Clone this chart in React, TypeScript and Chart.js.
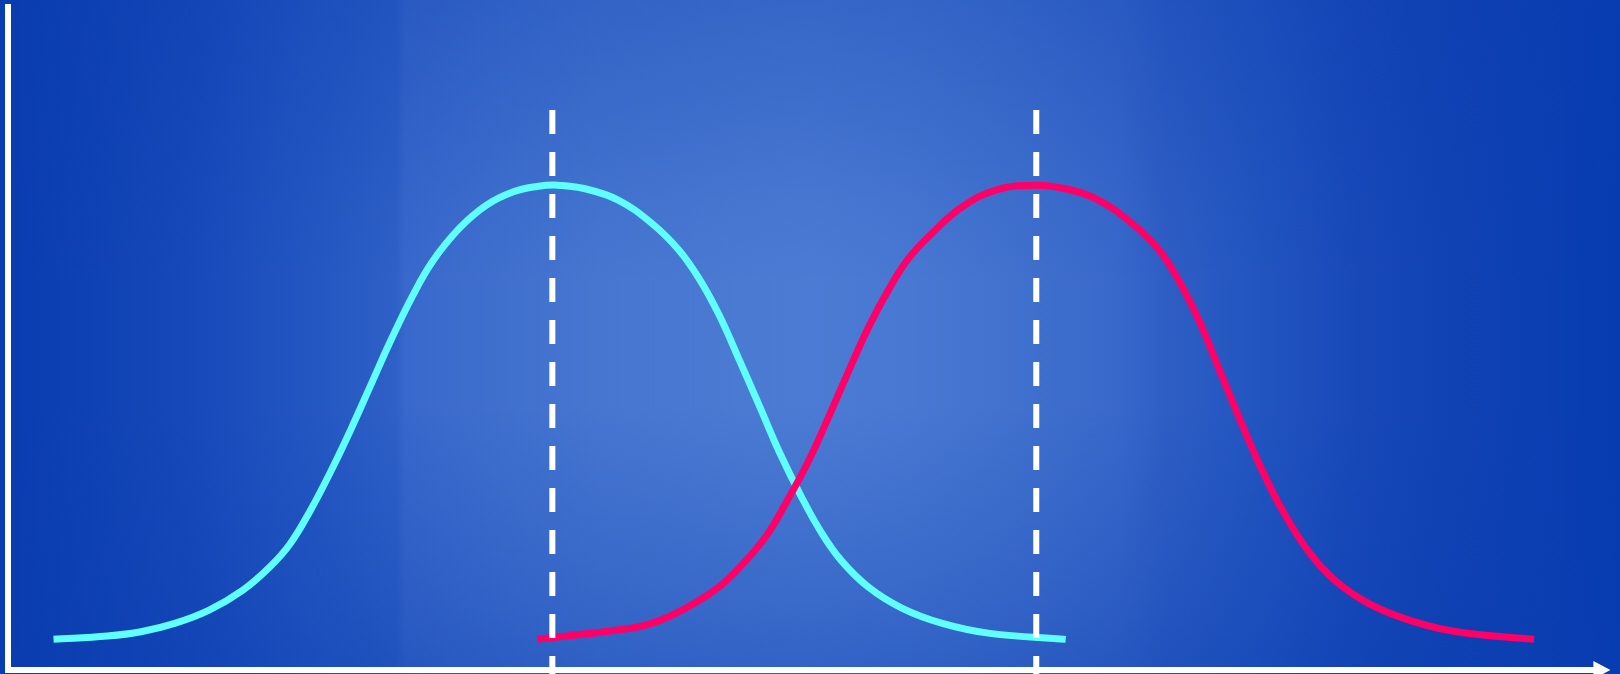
import React, { useEffect, useRef } from "react";
import { Chart, registerables } from "chart.js";

Chart.register(...registerables);

// Curve A (cyan)
const cyanX = [2.84, 6.2, 8.3, 10.4, 12.55, 14.66, 16.35, 17.62, 18.88, 20.14, 21.41, 22.68, 23.95, 25.21, 26.48, 28.16, 29.86, 31.54, 33.0, 34.3, 35.94, 38.05, 40.16, 41.85, 43.12, 44.38, 45.65, 46.92, 48.18, 49.45, 50.72, 51.98, 53.67, 55.78, 58.31, 61.27, 66.01];
const cyanY = [4.6, 5.1, 5.75, 7.0, 9.0, 12.0, 15.5, 19.0, 24.0, 29.8, 36.2, 43.0, 49.8, 56.0, 61.3, 66.3, 69.8, 71.8, 72.6, 72.8, 72.3, 70.6, 67.1, 63.1, 58.8, 53.3, 46.5, 39.5, 32.5, 26.3, 20.8, 16.5, 12.5, 9.3, 7.0, 5.5, 4.6];

// Curve B (magenta)
const magentaX = [33.02, 38.05, 40.16, 42.27, 44.38, 46.07, 47.34, 48.6, 49.88, 51.14, 52.4, 53.67, 54.93, 56.2, 57.89, 59.58, 61.69, 64.01, 65.9, 68.02, 70.12, 71.82, 73.08, 74.34, 75.61, 76.88, 78.15, 79.41, 81.1, 82.79, 84.9, 87.43, 90.39, 95.24];
const magentaY = [4.65, 6.0, 7.0, 9.26, 12.5, 16.5, 20.2, 25.3, 31.0, 37.6, 44.55, 51.3, 57.0, 61.8, 66.1, 69.6, 72.1, 72.8, 72.3, 70.6, 67.1, 63.1, 58.4, 52.4, 45.0, 37.6, 30.6, 24.5, 18.0, 13.5, 10.0, 7.5, 5.75, 4.6];

// Means (dashed verticals)
const meanValues = [33.97, 64.17];
const meanLineTop = 84.08;
const meanLineBottom = -0.6;

const X_MIN = -0.5;
const X_MAX = 100.6;
const Y_MIN = -0.6;
const Y_MAX = 100.6;
const AXIS_X_END = 100;
const AXIS_Y_END = 100;

const toPoints = (xs: number[], ys: number[]) => xs.map((x, i) => ({ x, y: ys[i] }));

const backgroundPlugin = {
  id: "bgGradient",
  beforeDraw(chart: any) {
    const { ctx, width, height } = chart;
    ctx.save();
    const h = ctx.createLinearGradient(0, 0, width, 0);
    h.addColorStop(0, "#093cb0");
    h.addColorStop(0.06, "#0f42b4");
    h.addColorStop(0.12, "#1749ba");
    h.addColorStop(0.19, "#2456c2");
    h.addColorStop(0.245, "#2e60c7");
    h.addColorStop(0.25, "#3868cb");
    h.addColorStop(0.31, "#4070ce");
    h.addColorStop(0.37, "#4676d0");
    h.addColorStop(0.46, "#4a7ad2");
    h.addColorStop(0.5, "#4b7bd3");
    h.addColorStop(0.56, "#4878d2");
    h.addColorStop(0.62, "#4272ce");
    h.addColorStop(0.69, "#3868ca");
    h.addColorStop(0.72, "#2e5ec4");
    h.addColorStop(0.78, "#2254c0");
    h.addColorStop(0.84, "#1848b8");
    h.addColorStop(0.9, "#1042b4");
    h.addColorStop(1, "#063cb0");
    ctx.fillStyle = h;
    ctx.fillRect(0, 0, width, height);
    const v = ctx.createLinearGradient(0, 0, 0, height);
    v.addColorStop(0, "rgba(10,60,176,0.32)");
    v.addColorStop(0.15, "rgba(10,60,176,0.2)");
    v.addColorStop(0.3, "rgba(10,60,176,0.07)");
    v.addColorStop(0.42, "rgba(10,60,176,0)");
    v.addColorStop(0.6, "rgba(10,60,176,0)");
    v.addColorStop(0.75, "rgba(10,60,176,0.13)");
    v.addColorStop(0.9, "rgba(10,60,176,0.27)");
    v.addColorStop(1, "rgba(10,60,176,0.4)");
    ctx.fillStyle = v;
    ctx.fillRect(0, 0, width, height);
    ctx.restore();
  },
};

const axesPlugin = {
  id: "arrowAxes",
  afterDraw(chart: any) {
    const { ctx } = chart;
    const xs = chart.scales.x;
    const ys = chart.scales.y;
    const x0 = xs.getPixelForValue(0);
    const y0 = ys.getPixelForValue(0);
    const yTop = ys.getPixelForValue(AXIS_Y_END);
    const xEnd = xs.getPixelForValue(AXIS_X_END);
    ctx.save();
    ctx.strokeStyle = "#ffffff";
    ctx.fillStyle = "#ffffff";
    ctx.lineWidth = 6;
    ctx.lineCap = "butt";
    ctx.beginPath();
    ctx.moveTo(x0, yTop);
    ctx.lineTo(x0, y0 + 3);
    ctx.stroke();
    ctx.beginPath();
    ctx.moveTo(x0, y0);
    ctx.lineTo(xEnd - 16, y0);
    ctx.stroke();
    ctx.beginPath();
    ctx.moveTo(xEnd, y0);
    ctx.lineTo(xEnd - 17, y0 - 9);
    ctx.lineTo(xEnd - 17, y0 + 9);
    ctx.closePath();
    ctx.fill();
    ctx.restore();
  },
};

export default function App() {
  const canvasRef = useRef<HTMLCanvasElement | null>(null);

  useEffect(() => {
    if (!canvasRef.current) return;
    const meanSets = meanValues.map((m, i) => ({
      label: "mean" + i,
      data: [
        { x: m, y: meanLineTop },
        { x: m, y: meanLineBottom },
      ],
      borderColor: "#ffffff",
      borderWidth: 6,
      borderDash: [24, 18],
      pointRadius: 0,
      tension: 0,
      fill: false,
      order: 0,
    }));
    const chart = new Chart(canvasRef.current, {
      type: "line",
      data: {
        datasets: [
          ...meanSets,
          {
            label: "B",
            data: toPoints(magentaX, magentaY),
            borderColor: "#ff0066",
            borderWidth: 7,
            pointRadius: 0,
            tension: 0.4,
            fill: false,
            order: 1,
          },
          {
            label: "A",
            data: toPoints(cyanX, cyanY),
            borderColor: "#60ffff",
            borderWidth: 7,
            pointRadius: 0,
            tension: 0.4,
            fill: false,
            order: 2,
          },
        ],
      } as any,
      options: {
        responsive: false,
        animation: false,
        devicePixelRatio: 1,
        layout: { padding: 0 },
        plugins: {
          legend: { display: false },
          tooltip: { enabled: false },
        },
        scales: {
          x: { type: "linear", min: X_MIN, max: X_MAX, display: false },
          y: { type: "linear", min: Y_MIN, max: Y_MAX, display: false },
        },
      } as any,
      plugins: [backgroundPlugin, axesPlugin],
    });
    return () => chart.destroy();
  }, []);

  return (
    <div style={{ position: "fixed", left: 0, top: 0, width: 1620, height: 674 }}>
      <canvas ref={canvasRef} width={1620} height={674} style={{ display: "block" }} />
    </div>
  );
}
